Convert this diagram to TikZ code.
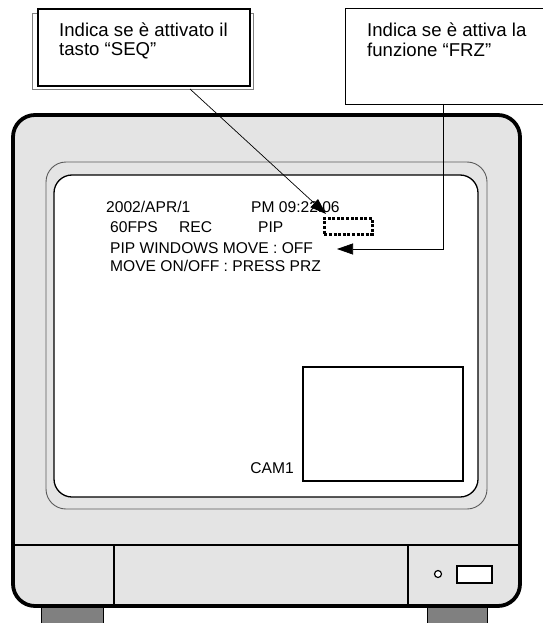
\documentclass[tikz,border=0pt]{standalone}
\usepackage{fontspec}
\setmainfont{Liberation Sans}
\usetikzlibrary{arrows.meta}
\definecolor{bodygray}{RGB}{228,228,228}
\definecolor{footgray}{RGB}{128,128,128}
\definecolor{bezelline}{RGB}{90,90,90}
\begin{document}
\begin{tikzpicture}[x=1pt,y=-1pt,
  screentext/.style={font=\fontsize{15.6}{18}\selectfont, inner sep=0pt, anchor=base west},
  boxtext/.style={font=\fontsize{18.6}{20}\selectfont, inner sep=0pt, anchor=base west},
  callout/.style={draw, fill=white, anchor=north west, inner sep=0pt},
  conn/.style={line width=0.7pt, -{Triangle[length=16pt,width=11pt]}},
  foot/.style={draw, fill=footgray, line width=0.8pt},
  panel/.style={line width=1.2pt}]
\useasboundingbox (0,0) rectangle (542,623);

% feet
\draw[foot] (41,603) rectangle (103,630);
\draw[foot] (427,603) rectangle (487,630);

% monitor body
\draw[line width=3.8pt, fill=bodygray, rounded corners=22pt] (13,115) rectangle (520,606);
% bezel
\draw[line width=0.9pt, draw=bezelline, fill=bodygray, rounded corners=20pt] (46,162) rectangle (487,509);
% screen
\draw[line width=1.3pt, fill=white, rounded corners=18pt] (54,175) rectangle (478,497);
% PIP window
\draw[line width=1.5pt, fill=white] (303,367) rectangle (463,481);

% lower panel
\draw[panel] (13,545) -- (520,545);
\draw[panel] (114,545) -- (114,604);
\draw[panel] (408,545) -- (408,604);
\draw[panel, fill=white] (438,574) circle (3.5pt);
\draw[panel, fill=white] (457,566) rectangle (492,583);

% screen texts
\node[screentext] (date) at (106,212) {2002/APR/1};
\node[screentext] (time) at (251,212) {PM 09:22:06};
\node[screentext] (fps) at (110,232) {60FPS};
\node[screentext] (rec) at (179,232) {REC};
\node[screentext] (pip) at (258,232) {PIP};
\node[screentext] (pipmove) at (110,253) {PIP WINDOWS MOVE : OFF};
\node[screentext] (moveon) at (110,271) {MOVE ON/OFF : PRESS PRZ};
\node[screentext, anchor=base east] (cam) at (294,473) {CAM1};

% dashed indicator box
\node[draw, line width=2.6pt, dash pattern=on 3pt off 1.6pt, minimum width=48pt, minimum height=16pt, inner sep=0pt, anchor=north west] (dashbox) at (323,217) {};

% callout boxes
\node[callout, draw=gray, line width=0.8pt, minimum width=221pt, minimum height=76pt] (seqback) at (32,13) {};
\node[callout, line width=1.8pt, minimum width=212pt, minimum height=77pt] (seqbox) at (37,8) {};
\node[boxtext] (seqa) at (59,37) {Indica se è attivato il};
\node[boxtext] (seqb) at (59,56) {tasto “SEQ”};

\node[callout, line width=1.3pt, minimum width=200pt, minimum height=96pt] (frzbox) at (345,8) {};
\node[boxtext] (frza) at (367,37) {Indica se è attiva la};
\node[boxtext] (frzb) at (367,57) {funzione “FRZ”};

% connectors
\coordinate (seqfoot) at (190,89);
\coordinate (seqtip) at (326,214);
\coordinate (frzfoot) at (443,104);
\coordinate (frztip) at (337,249);
\draw[conn] (seqfoot) -- (seqtip);
\draw[conn] (frzfoot) |- (frztip);
\end{tikzpicture}
\end{document}
